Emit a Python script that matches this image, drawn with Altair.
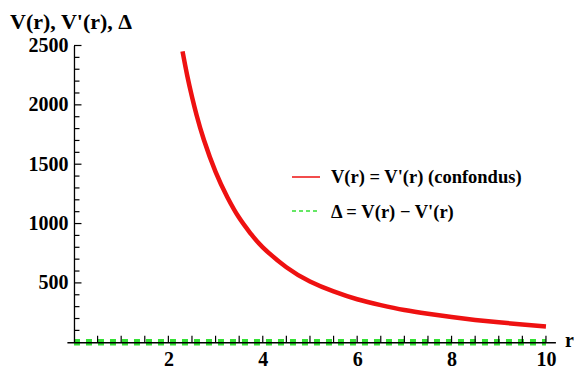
import altair as alt
import pandas as pd

# ---- data ----
r_v = [2.3, 2.4, 2.5, 2.6, 2.75, 3.0, 3.25, 3.5, 3.75, 4.0, 4.5, 5.0, 5.5,
       6.0, 6.5, 7.0, 7.5, 8.0, 8.5, 9.0, 9.5, 10.0]
v_vals = [2450, 2245, 2068, 1910, 1708, 1435, 1222, 1048, 912, 800, 632, 512,
          428, 362, 313, 272, 240, 212, 188, 168, 150, 133]
r_d = [0.0, 10.0]
d_vals = [0.0, 0.0]

series_names = ["V(r) = V'(r) (confondus)", "Δ = V(r) − V'(r)"]
x_label_ticks = [2, 4, 6, 8, 10]
y_label_ticks = [500, 1000, 1500, 2000, 2500]
x_minor_ticks = [i * 0.5 for i in range(1, 21)]
y_minor_ticks = [i * 100 for i in range(1, 26)]
y_title = "V(r), V'(r), Δ"
x_name = "r"

RED = "#ee1111"
GREEN = "#33e033"
FONT = "Liberation Serif"

df_v = pd.DataFrame({"r": r_v, "val": v_vals, "s": series_names[0]})
df_d = pd.DataFrame({"r": r_d, "val": d_vals, "s": series_names[1]})
df_xt = pd.DataFrame({"r": x_minor_ticks})
df_yt = pd.DataFrame({"val": y_minor_ticks,
                      "major": [v % 500 == 0 for v in y_minor_ticks]})

W = 488.5
H = 296.75
Y_AXIS_OFF = 7.08

xscale = alt.Scale(domain=[-0.15, 10.2], nice=False, zero=False)
yscale = alt.Scale(domain=[0, 2500], nice=False)

x_lab_axis = alt.Axis(values=x_label_ticks, orient="bottom", tickSize=0, domain=True,
                      domainColor="black", domainWidth=1.3, grid=False, title=None,
                      labelFont=FONT, labelFontWeight="bold", labelFontSize=20,
                      labelColor="black", labelPadding=7, zindex=1)
y_lab_axis = alt.Axis(values=y_label_ticks, orient="left", offset=-Y_AXIS_OFF, tickSize=0,
                      domain=True, domainColor="black", domainWidth=1.3, grid=False,
                      title=None, labelFont=FONT, labelFontWeight="bold", labelFontSize=20,
                      labelColor="black", labelPadding=6, format="d", zindex=1)

X = alt.X("r:Q", scale=xscale, axis=x_lab_axis)
Y = alt.Y("val:Q", scale=yscale, axis=y_lab_axis)

red = alt.Chart(df_v).mark_line(color=RED, strokeWidth=4.5, interpolate="natural").encode(
    x=X, y=Y)

green = alt.Chart(df_d).mark_line(color=GREEN, strokeWidth=6.5, strokeDash=[6, 6]).encode(
    x=X, y=Y)

# inward ticks (Mathematica style), drawn from the tick arrays through the scales
x_ticks = alt.Chart(df_xt).mark_rule(color="black", strokeWidth=1.2).encode(
    x=X, y=alt.value(H), y2=alt.value(H - 6.5))
y_ticks_minor = alt.Chart(df_yt[~df_yt["major"]]).mark_rule(color="black", strokeWidth=1.2).encode(
    y=Y, x=alt.value(Y_AXIS_OFF), x2=alt.value(Y_AXIS_OFF + 5.5))
y_ticks_major = alt.Chart(df_yt[df_yt["major"]]).mark_rule(color="black", strokeWidth=1.2).encode(
    y=Y, x=alt.value(Y_AXIS_OFF), x2=alt.value(Y_AXIS_OFF + 7.5))

# ---- manual legend and annotation texts ----
leg_df = pd.DataFrame({"label": series_names})
leg_red_line = alt.Chart(leg_df.iloc[[0]]).mark_rule(color=RED, strokeWidth=1.5).encode(
    x=alt.value(292 - 66.9), x2=alt.value(320 - 66.9), y=alt.value(177 - 45.5))
leg_green_line = alt.Chart(leg_df.iloc[[1]]).mark_rule(color=GREEN, strokeWidth=1.5,
                                                       strokeDash=[4, 3]).encode(
    x=alt.value(292 - 66.9), x2=alt.value(320 - 66.9), y=alt.value(211 - 45.5))
leg_red_text = alt.Chart(leg_df.iloc[[0]]).mark_text(
    font=FONT, fontWeight="bold", fontSize=18.5, align="left", baseline="middle",
    color="black").encode(x=alt.value(331 - 66.9), y=alt.value(177 - 45.5), text="label:N")
leg_green_text = alt.Chart(leg_df.iloc[[1]]).mark_text(
    font=FONT, fontWeight="bold", fontSize=18.5, align="left", baseline="middle",
    color="black").encode(x=alt.value(331 - 66.9), y=alt.value(212 - 45.5), text="label:N")

title_df = pd.DataFrame({"t": [y_title]})
title_txt = alt.Chart(title_df).mark_text(
    font=FONT, fontWeight="bold", fontSize=22, align="left", baseline="alphabetic",
    color="black").encode(x=alt.value(10 - 66.9), y=alt.value(29 - 45.5), text="t:N")

xname_df = pd.DataFrame({"t": [x_name]})
xname_txt = alt.Chart(xname_df).mark_text(
    font=FONT, fontWeight="bold", fontSize=20, align="left", baseline="alphabetic",
    color="black").encode(x=alt.value(565 - 66.9), y=alt.value(347 - 45.5), text="t:N")

chart = alt.layer(
    red, green, x_ticks, y_ticks_minor, y_ticks_major,
    leg_red_line, leg_green_line, leg_red_text, leg_green_text,
    title_txt, xname_txt
).properties(
    width=W, height=H,
    autosize=alt.AutoSizeParams(type="none"),
    padding={"left": 66.9, "top": 45.5, "right": 574 - 66.9 - W, "bottom": 369 - 45.5 - H},
    background="white",
).configure_view(stroke=None)

chart.save("out.html", embed_options={"renderer": "svg", "actions": False})
